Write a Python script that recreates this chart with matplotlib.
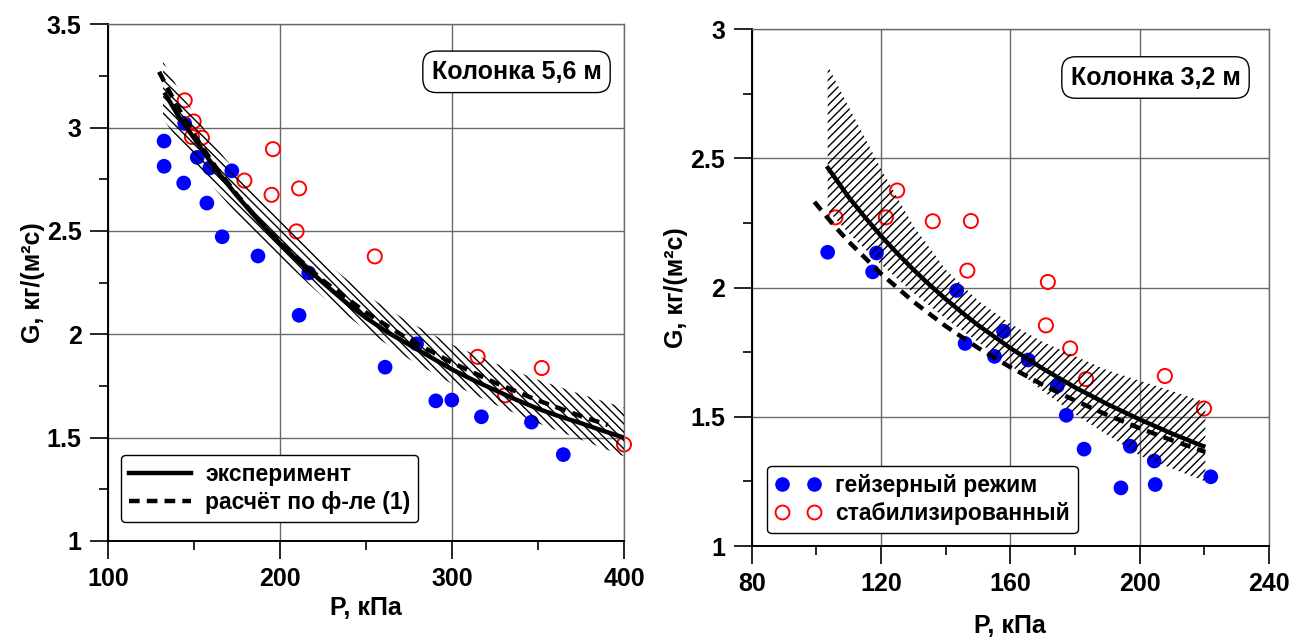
import matplotlib
matplotlib.use("Agg")
import matplotlib.pyplot as plt
from matplotlib.lines import Line2D
from matplotlib.ticker import FixedLocator, MultipleLocator

plt.rcParams['font.family'] = ['Liberation Sans', 'DejaVu Sans']
plt.rcParams['font.weight'] = 'bold'
plt.rcParams['hatch.linewidth'] = 1.0

# ---------------- Left panel: Колонка 5,6 м ----------------
L_geyser_P = [132.6, 132.6, 144.0, 144.6, 151.9, 159.2, 157.5, 172.0, 166.4, 187.2,
              216.7, 211.1, 279.4, 261.1, 290.6, 299.9, 317.1, 346.2, 364.7]
L_geyser_G = [2.935, 2.813, 2.732, 3.020, 2.856, 2.805, 2.635, 2.791, 2.472, 2.379,
              2.297, 2.092, 1.954, 1.841, 1.678, 1.682, 1.601, 1.575, 1.418]
L_stab_P = [144.6, 149.8, 148.8, 154.6, 195.9, 179.3, 195.1, 211.1, 209.6, 255.1,
            314.9, 352.2, 330.9, 400.0]
L_stab_G = [3.132, 3.030, 2.955, 2.951, 2.896, 2.744, 2.675, 2.706, 2.498, 2.377,
            1.891, 1.837, 1.705, 1.467]
L_exp_P = [132.8, 141, 150, 162.5, 175, 187.5, 200, 212.5, 225, 237.5, 250, 262.5,
           275, 287.5, 300, 312.5, 325, 337.5, 350, 362.5, 375, 387.5, 400]
L_exp_G = [3.17, 3.055, 2.95, 2.80, 2.67, 2.55, 2.44, 2.34, 2.25, 2.16, 2.08, 2.01,
           1.95, 1.89, 1.83, 1.778, 1.73, 1.683, 1.64, 1.603, 1.57, 1.534, 1.50]
L_calc_P = [129.7, 140, 150, 162.5, 175, 187.5, 200, 225, 250, 275, 300, 325, 350,
            375, 390.6]
L_calc_G = [3.27, 3.107, 2.966, 2.811, 2.675, 2.554, 2.445, 2.26, 2.105, 1.975, 1.863,
            1.766, 1.68, 1.604, 1.561]
L_band_P = [132, 140, 150, 162.5, 175, 187.5, 200, 225, 250, 275, 300, 325, 350, 375, 400]
L_band_hi = [3.32, 3.20, 3.07, 2.91, 2.78, 2.66, 2.56, 2.36, 2.19, 2.06, 1.95, 1.86,
             1.78, 1.71, 1.645]
L_band_lo = [3.04, 2.95, 2.84, 2.70, 2.58, 2.47, 2.37, 2.18, 2.02, 1.88, 1.76, 1.66,
             1.57, 1.49, 1.41]
L_xticks = [100, 200, 300, 400]
L_yticks = [1.0, 1.5, 2.0, 2.5, 3.0, 3.5]
L_yticklabels = ['1', '1.5', '2', '2.5', '3', '3.5']

# ---------------- Right panel: Колонка 3,2 м ----------------
R_geyser_P = [103.5, 118.6, 117.4, 143.4, 146.0, 157.9, 155.1, 165.5, 174.5, 177.3,
              182.8, 197.1, 204.5, 194.2, 204.8, 222.0]
R_geyser_G = [2.137, 2.134, 2.061, 1.989, 1.784, 1.831, 1.734, 1.720, 1.619, 1.506,
              1.375, 1.386, 1.329, 1.225, 1.238, 1.268]
R_stab_P = [105.9, 121.5, 125.0, 136.0, 147.8, 146.7, 171.6, 171.0, 178.5, 183.4,
            207.8, 219.9]
R_stab_G = [2.272, 2.272, 2.376, 2.257, 2.258, 2.066, 2.022, 1.854, 1.765, 1.646,
            1.658, 1.532]
R_exp_P = [103.2, 110, 115, 120, 125, 130, 135, 140, 145, 150, 160, 170, 180, 190,
           200, 210, 220.3]
R_exp_G = [2.47, 2.35, 2.273, 2.20, 2.133, 2.07, 2.011, 1.956, 1.904, 1.855, 1.766,
           1.687, 1.614, 1.549, 1.49, 1.435, 1.383]
R_calc_P = [99.4, 105, 110, 120, 130, 140, 150, 160, 170, 180, 190, 200, 210, 220.3]
R_calc_G = [2.332, 2.247, 2.178, 2.054, 1.946, 1.851, 1.767, 1.692, 1.624, 1.563,
            1.507, 1.456, 1.409, 1.364]
R_band_P = [103.5, 110, 120, 130, 140, 150, 160, 170, 180, 190, 200, 210, 220.3]
R_band_hi = [2.86, 2.70, 2.46, 2.24, 2.07, 1.95, 1.86, 1.79, 1.735, 1.68, 1.64, 1.60, 1.556]
R_band_lo = [2.30, 2.21, 2.09, 1.98, 1.88, 1.79, 1.70, 1.60, 1.51, 1.43, 1.35, 1.30, 1.25]
R_xticks = [80, 120, 160, 200, 240]
R_yticks = [1.0, 1.5, 2.0, 2.5, 3.0]
R_yticklabels = ['1', '1.5', '2', '2.5', '3']

W, H = 1293, 637
fig = plt.figure(figsize=(W / 100, H / 100), dpi=100)
ax1 = fig.add_axes([108 / W, 1 - 541 / H, 516 / W, 516.7 / H])
ax2 = fig.add_axes([751.7 / W, 1 - 546 / H, 517.3 / W, 516.7 / H])

GRID = '#6a6a6a'
TS = 18


def style(ax, xlim, ylim, xticks, xminor, yticks, yticklabels, xpad, ypad):
    ax.set_xlim(*xlim)
    ax.set_ylim(*ylim)
    ax.xaxis.set_major_locator(FixedLocator(xticks))
    ax.set_xticklabels([str(t) for t in xticks])
    ax.xaxis.set_minor_locator(MultipleLocator(xminor))
    ax.yaxis.set_major_locator(FixedLocator(yticks))
    ax.set_yticklabels(yticklabels)
    ax.yaxis.set_minor_locator(MultipleLocator(0.25))
    ax.grid(True, which='major', color=GRID, lw=1.0, zorder=0)
    ax.set_axisbelow(True)
    ax.tick_params(which='major', direction='out', length=13, width=1.2,
                   labelsize=TS, pad=6, color='black')
    ax.tick_params(which='minor', direction='out', length=6.5, width=1.2, color='black')
    for s in ['left', 'bottom']:
        ax.spines[s].set_color('black')
        ax.spines[s].set_linewidth(1.4)
    for s in ['top', 'right']:
        ax.spines[s].set_color(GRID)
        ax.spines[s].set_linewidth(1.0)
    for lab in ax.get_xticklabels() + ax.get_yticklabels():
        lab.set_fontweight('bold')
    ax.set_xlabel('P, кПа', fontsize=TS, fontweight='bold', labelpad=xpad)
    ax.set_ylabel('G, кг/(м²с)', fontsize=TS, fontweight='bold', labelpad=ypad)


style(ax1, (100, 400), (1, 3.5), L_xticks, 50, L_yticks, L_yticklabels, 3, 1)
style(ax2, (80, 240), (1, 3), R_xticks, 20, R_yticks, R_yticklabels, 13, 2)

MS = 112
for ax, gp, gg, sp, sg in [(ax1, L_geyser_P, L_geyser_G, L_stab_P, L_stab_G),
                           (ax2, R_geyser_P, R_geyser_G, R_stab_P, R_stab_G)]:
    ax.scatter(gp, gg, s=MS, color='#0000ff', edgecolors='none', zorder=2, clip_on=False)
    ax.scatter(sp, sg, s=MS * 0.92, facecolors='none', edgecolors='#ff0000', linewidths=1.4,
               zorder=2, clip_on=False)

ax1.fill_between(L_band_P, L_band_lo, L_band_hi, facecolor='none', edgecolor='black',
                 hatch='\\\\\\\\', linewidth=0, zorder=3)
ax2.fill_between(R_band_P, R_band_lo, R_band_hi, facecolor='none', edgecolor='black',
                 hatch='////', linewidth=0, zorder=3)

DASH = (2.4, 1.6)
for ax, ep, eg, cp, cg in [(ax1, L_exp_P, L_exp_G, L_calc_P, L_calc_G),
                           (ax2, R_exp_P, R_exp_G, R_calc_P, R_calc_G)]:
    ax.plot(ep, eg, color='black', lw=3.2, zorder=4, solid_capstyle='butt')
    ax.plot(cp, cg, color='black', lw=3.2, dashes=DASH, zorder=4)

box = dict(boxstyle='round,pad=0.35,rounding_size=0.55', facecolor='white',
           edgecolor='black', linewidth=1.0)
ax1.text(0.7917, 0.908, 'Колонка 5,6 м', transform=ax1.transAxes, ha='center',
         va='center', fontsize=18, fontweight='bold', bbox=box, zorder=6)
ax2.text(0.7806, 0.9067, 'Колонка 3,2 м', transform=ax2.transAxes, ha='center',
         va='center', fontsize=18, fontweight='bold', bbox=box, zorder=6)

h1 = [Line2D([], [], color='black', lw=3.2),
      Line2D([], [], color='black', lw=3.2, dashes=DASH)]
leg1 = ax1.legend(h1, ['эксперимент', 'расчёт по ф-ле (1)'], loc='lower left',
                  bbox_to_anchor=(0.026, 0.036), borderaxespad=0, fancybox=True,
                  framealpha=1, edgecolor='black', handlelength=2.7,
                  prop={'weight': 'bold', 'size': 16.5}, labelspacing=0.25,
                  borderpad=0.35, handletextpad=0.6)
leg1.get_frame().set_linewidth(1.0)
leg1.set_zorder(6)

h2 = [Line2D([], [], ls='none', marker='o', ms=10.5, color='#0000ff', mec='none'),
      Line2D([], [], ls='none', marker='o', ms=10, mfc='none', mec='#ff0000', mew=1.4)]
leg2 = ax2.legend(h2, ['гейзерный режим', 'стабилизированный'], loc='lower left',
                  bbox_to_anchor=(0.0305, 0.0246), borderaxespad=0, fancybox=True,
                  framealpha=1, edgecolor='black', numpoints=2, handlelength=2.0,
                  prop={'weight': 'bold', 'size': 16.5}, labelspacing=0.25,
                  borderpad=0.35, handletextpad=0.6)
leg2.get_frame().set_linewidth(1.0)
leg2.set_zorder(6)

fig.savefig('out.png', dpi=100)
